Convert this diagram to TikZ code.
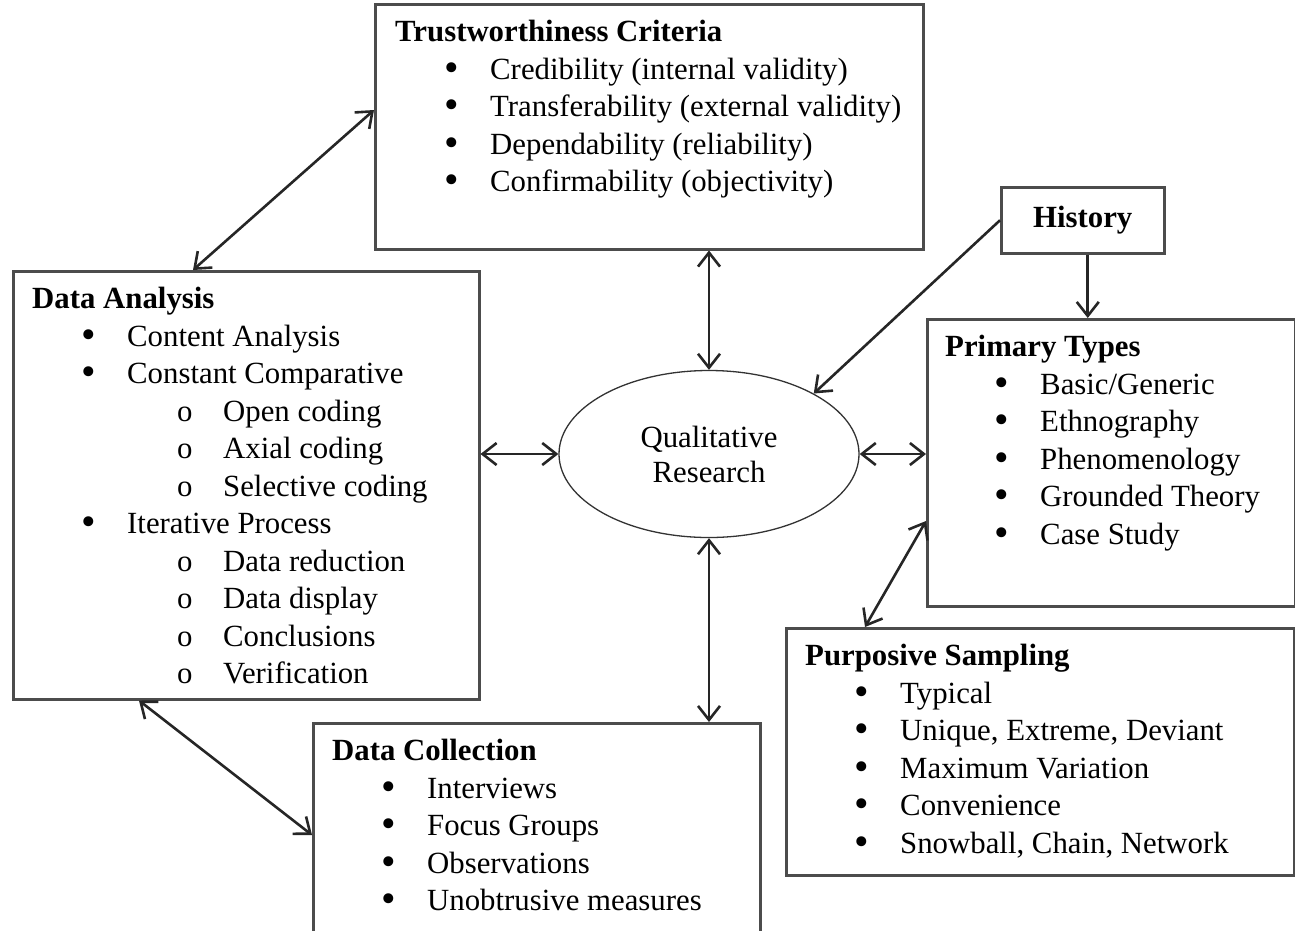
\documentclass[tikz,border=0pt]{standalone}
\usepackage{fontspec}
\setmainfont{Liberation Serif}
\usetikzlibrary{shapes.geometric,arrows.meta,positioning}
\newcommand{\dotmark}{\raisebox{-2pt}{\scalebox{1.35}{\textbullet}}}
\newcommand{\itm}[1]{\makebox[95pt][l]{\hspace{49pt}\dotmark}#1}
\newcommand{\subitm}[1]{\makebox[191pt][l]{\hspace{145pt}o}#1}
\begin{document}
\begin{tikzpicture}
[x=1pt,y=-1pt,
box/.style={draw=black!70,line width=2.5pt,anchor=north west,inner sep=0pt},
txt/.style={anchor=north west,align=left,inner sep=0pt,font=\fontsize{30.8}{37.5}\selectfont},
bubble/.style={ellipse,draw=black!80,line width=1.3pt,minimum width=300pt,minimum height=167pt,align=center,font=\fontsize{30.8}{35}\selectfont},
link/.style={line width=2.6pt,draw=black!85,{Straight Barb[length=14pt,width=22pt]}-{Straight Barb[length=14pt,width=22pt]}},
oneway/.style={line width=2.6pt,draw=black!85,-{Straight Barb[length=14pt,width=22pt]}}]

\clip (0,0) rectangle (1295,930);

\node[box,minimum width=548pt,minimum height=245pt] (trust) at (374,3) {};
\node[txt] (trustList) at ([shift={(21,17)}]trust.north west) {\textbf{Trustworthiness Criteria}\\
\itm{Credibility (internal validity)}\\
\itm{Transferability (external validity)}\\
\itm{Dependability (reliability)}\\
\itm{Confirmability (objectivity)}};

\node[box,minimum width=466pt,minimum height=428pt] (da) at (12,270) {};
\node[txt] (daList) at ([shift={(20,17)}]da.north west) {\textbf{Data Analysis}\\
\itm{Content Analysis}\\
\itm{Constant Comparative}\\
\subitm{Open coding}\\
\subitm{Axial coding}\\
\subitm{Selective coding}\\
\itm{Iterative Process}\\
\subitm{Data reduction}\\
\subitm{Data display}\\
\subitm{Conclusions}\\
\subitm{Verification}};

\node[bubble] (qr) at (709,454) {Qualitative\\Research};

\node[box,minimum width=163pt,minimum height=66pt,font=\fontsize{30.8}{37.5}\selectfont\bfseries] (hist) at (1000,186) {History};

\node[box,minimum width=368pt,minimum height=287pt] (prim) at (926,318) {};
\node[txt] (primList) at ([shift={(19,17)}]prim.north west) {\textbf{Primary Types}\\
\itm{Basic/Generic}\\
\itm{Ethnography}\\
\itm{Phenomenology}\\
\itm{Grounded Theory}\\
\itm{Case Study}};

\node[box,minimum width=508pt,minimum height=247pt] (purp) at (785,627) {};
\node[txt] (purpList) at ([shift={(20,17)}]purp.north west) {\textbf{Purposive Sampling}\\
\itm{Typical}\\
\itm{Unique, Extreme, Deviant}\\
\itm{Maximum Variation}\\
\itm{Convenience}\\
\itm{Snowball, Chain, Network}};

\node[box,minimum width=447pt,minimum height=260pt] (dc) at (312,722) {};
\node[txt] (dcList) at ([shift={(20,17)}]dc.north west) {\textbf{Data Collection}\\
\itm{Interviews}\\
\itm{Focus Groups}\\
\itm{Observations}\\
\itm{Unobtrusive measures}};

\draw[link] ([xshift=181pt]da.north west) -- ([yshift=-107pt]trust.north west);
\draw[link] (qr.north |- trust.south) -- (qr.north);
\draw[link] (qr.west -| da.east) -- (qr.west);
\draw[link] (qr.east) -- (qr.east -| prim.west);
\draw[link] (qr.south) -- (qr.south |- dc.north);
\draw[link] ([yshift=-203pt]prim.north west) -- ([xshift=80pt]purp.north west);
\draw[link] ([xshift=127pt]da.south west) -- ([yshift=-113pt]dc.north west);
\draw[oneway] (hist.west) -- (qr.30);
\draw[oneway] ([xshift=5pt]hist.south) -- ([xshift=5pt]hist.south |- prim.north);
\end{tikzpicture}
\end{document}
